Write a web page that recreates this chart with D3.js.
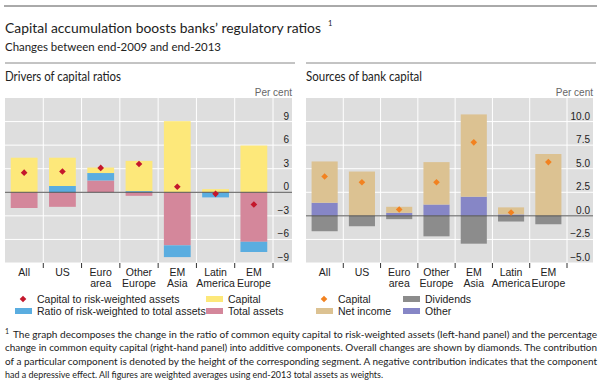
<!DOCTYPE html>
<html>
<head>
<meta charset="utf-8">
<script src="https://cdn.jsdelivr.net/npm/d3@7"></script>
<style>
  body { margin: 0; background: #fff; }
  svg { display: block; }
</style>
</head>
<body>
<div id="chart"></div>
<script>
// categories (two-line labels)
var categories = ["All", "US", "Euro area", "Other Europe", "EM Asia", "Latin America", "EM Europe"];
var catLines = [["All"], ["US"], ["Euro", "area"], ["Other", "Europe"], ["EM", "Asia"], ["Latin", "America"], ["EM", "Europe"]];

// left panel: drivers of capital ratios
var capitalL = [4.4, 3.6, 0.7, 3.85, 9.05, 0.4, 5.95];
var rwaRatio = [0.0, 0.8, 0.95, 0.15, -1.5, -0.65, -1.3];
var totalAssets = [-2.0, -1.85, 1.5, -0.45, -6.75, 0.0, -6.3];
var capToRwa = [2.5, 2.65, 3.1, 3.6, 0.7, -0.2, -1.55];
var leftTicks = [9, 6, 3, 0, -3, -6, -9];

// right panel: sources of bank capital
var netIncome = [4.38, 4.7, 0.64, 4.5, 8.73, 0.75, 6.56];
var otherR = [1.39, 0.0, 0.32, 1.2, 2.03, 0.15, 0.0];
var dividends = [-1.63, -1.1, -0.35, -2.17, -2.95, -0.6, -0.89];
var capitalR = [4.17, 3.57, 0.68, 3.57, 7.8, 0.36, 5.7];
var rightTicks = [10, 7.5, 5, 2.5, 0, -2.5, -5];

var W = 601, H = 380;
var sansTitle = "Lato, 'Open Sans', sans-serif";
var sans = "'Liberation Sans', Arial, sans-serif";

var svg = d3.select("#chart").append("svg")
    .attr("width", W)
    .attr("height", H);

// top rule + title
svg.append("line").attr("x1", 4).attr("x2", 597).attr("y1", 6).attr("y2", 6)
    .attr("stroke", "#555").attr("stroke-width", 1);
svg.append("text").attr("x", 5).attr("y", 33)
    .style("font-family", sansTitle).style("font-size", "14.2px").attr("fill", "#222")
    .attr("textLength", 316).attr("lengthAdjust", "spacingAndGlyphs")
    .text("Capital accumulation boosts banks\u2019 regulatory ratios");
svg.append("text").attr("x", 328).attr("y", 26)
    .style("font-family", sansTitle).style("font-size", "7.5px").attr("fill", "#222").text("1");
svg.append("text").attr("x", 5).attr("y", 51)
    .style("font-family", sansTitle).style("font-size", "12px").attr("fill", "#222")
    .attr("textLength", 216).attr("lengthAdjust", "spacingAndGlyphs")
    .text("Changes between end-2009 and end-2013");

function fmt(v, dec) {
  var s = d3.format(dec ? ".1f" : "d")(Math.abs(v));
  return v < 0 ? "\u2212" + s : s;
}

function drawPanel(o) {
  var g = svg.append("g");
  // panel rule + title
  g.append("line").attr("x1", o.x0).attr("x2", o.x1 + 3).attr("y1", 63).attr("y2", 63)
      .attr("stroke", "#888").attr("stroke-width", 1);
  g.append("text").attr("x", o.x0).attr("y", 81)
      .style("font-family", sansTitle).style("font-size", "13px").attr("fill", "#222")
      .attr("textLength", o.titleLen).attr("lengthAdjust", "spacingAndGlyphs")
      .text(o.title);
  g.append("text").attr("x", o.x1).attr("y", 96).attr("text-anchor", "end")
      .style("font-family", sans).style("font-size", "10px").attr("fill", "#666")
      .text("Per cent");

  var top = 98, bottom = 263;
  g.append("rect").attr("x", o.x0).attr("y", top)
      .attr("width", o.x1 - o.x0).attr("height", bottom - top)
      .attr("fill", "#dedede");

  var x = d3.scaleBand().domain(categories).range([o.x0, o.xb]).padding(0);
  var y = d3.scaleLinear().domain(o.domain).range([bottom, top]);

  // grid
  g.selectAll(".hg").data(o.ticks).enter().append("line")
      .attr("x1", o.x0).attr("x2", o.x1)
      .attr("y1", function(d) { return y(d); }).attr("y2", function(d) { return y(d); })
      .attr("stroke", "#fff").attr("stroke-width", 1);
  var bounds = categories.slice(1).map(function(c) { return x(c); }).concat([o.xb]);
  g.selectAll(".vg").data(bounds).enter().append("line")
      .attr("x1", function(d) { return d; }).attr("x2", function(d) { return d; })
      .attr("y1", top).attr("y2", bottom)
      .attr("stroke", "#fff").attr("stroke-width", 1);

  // stacked bars
  var rows = categories.map(function(c, i) {
    var r = { cat: c };
    o.series.forEach(function(s) { r[s.key] = s.values[i]; });
    return r;
  });
  var stack = d3.stack().keys(o.series.map(function(s) { return s.key; }))
      .offset(d3.stackOffsetDiverging);
  var layers = stack(rows);
  var bw = x.bandwidth() * 0.7;
  g.selectAll(".layer").data(layers).enter().append("g")
      .attr("fill", function(d, i) { return o.series[i].color; })
    .selectAll("rect").data(function(d) { return d; }).enter().append("rect")
      .attr("x", function(d) { return x(d.data.cat) + (x.bandwidth() - bw) / 2; })
      .attr("width", bw)
      .attr("y", function(d) { return y(Math.max(d[0], d[1])); })
      .attr("height", function(d) { return Math.abs(y(d[0]) - y(d[1])); });

  // zero line
  g.append("line").attr("x1", o.x0).attr("x2", o.x1)
      .attr("y1", y(0)).attr("y2", y(0))
      .attr("stroke", "#555").attr("stroke-width", 1);

  // diamonds
  var dia = d3.symbol().type(d3.symbolSquare).size(22);
  g.selectAll(".dia").data(o.points).enter().append("path")
      .attr("d", dia)
      .attr("transform", function(d, i) {
        return "translate(" + (x(categories[i]) + x.bandwidth() / 2) + "," + y(d) + ") rotate(45)";
      })
      .attr("fill", o.pointColor);

  // y tick labels
  g.selectAll(".yl").data(o.ticks).enter().append("text")
      .attr("x", o.x1 - 3).attr("y", function(d) { return y(d) - 2; })
      .attr("text-anchor", "end")
      .style("font-family", sans).style("font-size", "10px").attr("fill", "#222")
      .text(function(d) { return fmt(d, o.dec); });

  // bottom ticks
  g.selectAll(".bt").data(bounds).enter().append("line")
      .attr("x1", function(d) { return d; }).attr("x2", function(d) { return d; })
      .attr("y1", bottom).attr("y2", bottom + 5)
      .attr("stroke", "#333").attr("stroke-width", 1);

  // category labels
  catLines.forEach(function(lines, i) {
    var tx = g.append("text").attr("text-anchor", "middle")
        .style("font-family", sans).style("font-size", "10.5px").attr("fill", "#222");
    lines.forEach(function(l, j) {
      tx.append("tspan").attr("x", x(categories[i]) + x.bandwidth() / 2)
          .attr("y", 276 + j * 11).text(l);
    });
  });

  // legend
  o.legend.forEach(function(L) {
    if (L.diamond) {
      g.append("path").attr("d", dia)
          .attr("transform", "translate(" + (L.x + 8) + "," + L.y + ") rotate(45)")
          .attr("fill", L.color);
    } else {
      g.append("rect").attr("x", L.x).attr("y", L.y - 3).attr("width", 17).attr("height", 6)
          .attr("fill", L.color);
    }
    g.append("text").attr("x", L.x + 22).attr("y", L.y + 3.5)
        .style("font-family", sans).style("font-size", "10.5px").attr("fill", "#222")
        .text(L.label);
  });
}

var cYellow = "#fde87a", cPink = "#d4879b", cBlue = "#5aade0", cRed = "#c4172c";
var cTan = "#dcc292", cGrey = "#8c8c8c", cPurple = "#8686c6", cOrange = "#f28220";

drawPanel({
  title: "Drivers of capital ratios", titleLen: 116,
  x0: 5, xb: 273, x1: 292,
  domain: [-9, 12], ticks: leftTicks, dec: false,
  series: [
    { key: "total", values: totalAssets, color: cPink },
    { key: "ratio", values: rwaRatio, color: cBlue },
    { key: "capital", values: capitalL, color: cYellow }
  ],
  points: capToRwa, pointColor: cRed,
  legend: [
    { diamond: true, x: 15, y: 299, color: cRed, label: "Capital to risk-weighted assets" },
    { x: 15, y: 311, color: cBlue, label: "Ratio of risk-weighted to total assets" },
    { x: 206, y: 299, color: cYellow, label: "Capital" },
    { x: 206, y: 311, color: cPink, label: "Total assets" }
  ]
});

drawPanel({
  title: "Sources of bank capital", titleLen: 116,
  x0: 306, xb: 567, x1: 593,
  domain: [-5, 12.5], ticks: rightTicks, dec: true,
  series: [
    { key: "other", values: otherR, color: cPurple },
    { key: "net", values: netIncome, color: cTan },
    { key: "div", values: dividends, color: cGrey }
  ],
  points: capitalR, pointColor: cOrange,
  legend: [
    { diamond: true, x: 316, y: 299, color: cOrange, label: "Capital" },
    { x: 316, y: 311, color: cTan, label: "Net income" },
    { x: 403, y: 299, color: cGrey, label: "Dividends" },
    { x: 403, y: 311, color: cPurple, label: "Other" }
  ]
});

// footnote
var notes = [
  "The graph decomposes the change in the ratio of common equity capital to risk-weighted assets (left-hand panel) and the percentage",
  "change in common equity capital (right-hand panel) into additive components. Overall changes are shown by diamonds. The contribution",
  "of a particular component is denoted by the height of the corresponding segment. A negative contribution indicates that the component",
  "had a depressive effect. All figures are weighted averages using end-2013 total assets as weights."
];
var noteLen = [584, 592, 592, 378];
svg.append("text").attr("x", 5).attr("y", 334)
    .style("font-family", sansTitle).style("font-size", "7px").attr("fill", "#222").text("1");
notes.forEach(function(n, i) {
  var x0 = i === 0 ? 13 : 5;
  svg.append("text").attr("x", x0).attr("y", 338 + i * 13.3)
      .style("font-family", sansTitle).style("font-size", "9.6px").attr("fill", "#222")
      .attr("textLength", noteLen[i]).attr("lengthAdjust", "spacingAndGlyphs")
      .text(n);
});
</script>
</body>
</html>
